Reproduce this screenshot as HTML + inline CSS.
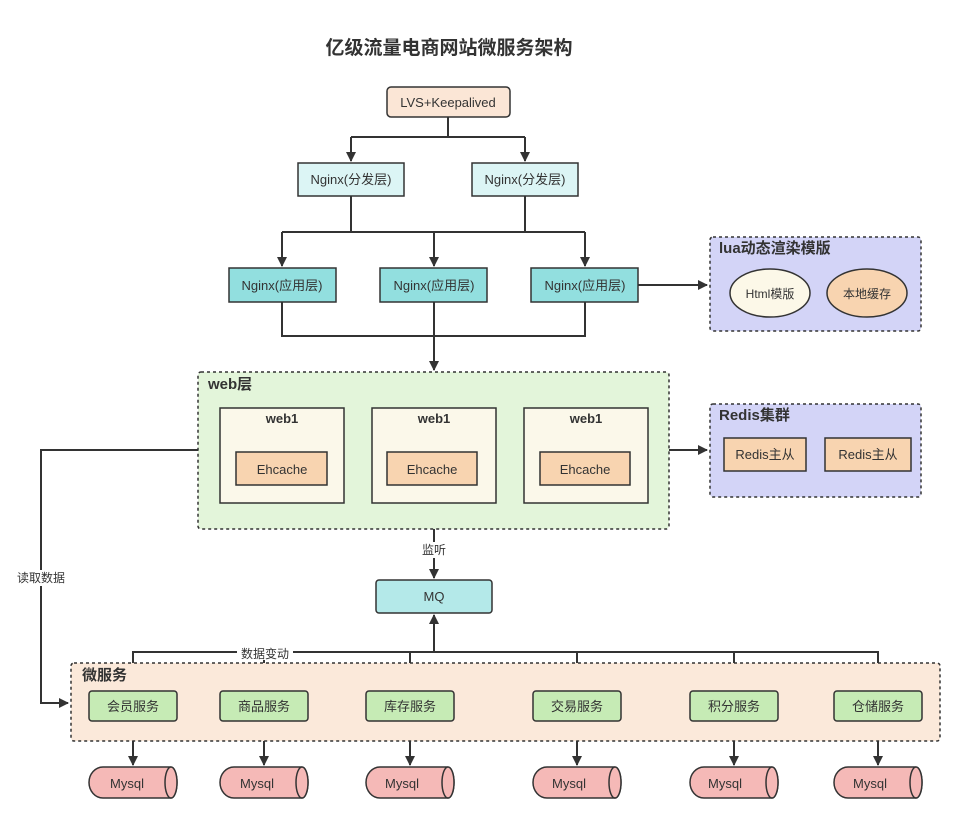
<!DOCTYPE html>
<html><head><meta charset="utf-8"><style>
html,body{margin:0;padding:0;background:#fff;}
svg text{font-family:"Liberation Sans","Noto Sans CJK SC",sans-serif;fill:#333;}
</style></head><body>
<svg width="965" height="822" viewBox="0 0 965 822" xmlns="http://www.w3.org/2000/svg">
<defs>
<marker id="a" markerWidth="10" markerHeight="10" refX="9" refY="5" orient="auto" markerUnits="userSpaceOnUse">
<path d="M0,0 L10,5 L0,10 z" fill="#333"/></marker>
</defs>
<rect width="965" height="822" fill="#fff"/>
<text x="449" y="54" font-size="19" font-weight="bold" text-anchor="middle">亿级流量电商网站微服务架构</text>

<g stroke="#333" stroke-width="2" fill="none">
<!-- LVS to 分发层 -->
<path d="M448,117 V137 M351,137 H525"/>
<path d="M351,137 V161" marker-end="url(#a)"/>
<path d="M525,137 V161" marker-end="url(#a)"/>
<!-- 分发 to 应用 -->
<path d="M351,196 V232 M525,196 V232 M282,232 H585"/>
<path d="M282,232 V266" marker-end="url(#a)"/>
<path d="M434,232 V266" marker-end="url(#a)"/>
<path d="M585,232 V266" marker-end="url(#a)"/>
<!-- 应用 to web -->
<path d="M282,302 V336 H585 V302 M434,302 V336"/>
<path d="M434,336 V370" marker-end="url(#a)"/>
<path d="M638,285 H707" marker-end="url(#a)"/>
<path d="M669,450 H707" marker-end="url(#a)"/>
<!-- read data -->
<path d="M198,450 H41 V703 H68" marker-end="url(#a)"/>
<!-- listen -->
<path d="M434,529 V578" marker-end="url(#a)"/>
<!-- data change -->
<path d="M133,691 V652 H878 V691 M264,652 V691 M410,652 V691 M577,652 V691 M734,652 V691"/>
<path d="M434,652 V615" marker-end="url(#a)"/>
<!-- services to mysql -->
<path d="M133,721 V765" marker-end="url(#a)"/>
<path d="M264,721 V765" marker-end="url(#a)"/>
<path d="M410,721 V765" marker-end="url(#a)"/>
<path d="M577,721 V765" marker-end="url(#a)"/>
<path d="M734,721 V765" marker-end="url(#a)"/>
<path d="M878,721 V765" marker-end="url(#a)"/>
</g>

<!-- label backgrounds -->
<rect x="13" y="570" width="56" height="16" fill="#fff"/>
<text x="41" y="582" font-size="12" text-anchor="middle">读取数据</text>
<rect x="416" y="542" width="36" height="16" fill="#fff"/>
<text x="434" y="554" font-size="12" text-anchor="middle">监听</text>
<rect x="237" y="646" width="56" height="14" fill="#fff"/>
<text x="265" y="658" font-size="12" text-anchor="middle">数据变动</text>

<!-- LVS -->
<rect x="387" y="87" width="123" height="30" rx="4" fill="#fbe6d6" stroke="#333" stroke-width="1.5"/>
<text x="448" y="107" font-size="13" text-anchor="middle">LVS+Keepalived</text>
<!-- 分发层 -->
<rect x="298" y="163" width="106" height="33" fill="#dcf5f5" stroke="#333" stroke-width="1.5"/>
<text x="351" y="184" font-size="13" text-anchor="middle">Nginx(分发层)</text>
<rect x="472" y="163" width="106" height="33" fill="#dcf5f5" stroke="#333" stroke-width="1.5"/>
<text x="525" y="184" font-size="13" text-anchor="middle">Nginx(分发层)</text>
<!-- 应用层 -->
<rect x="229" y="268" width="107" height="34" fill="#92dfdf" stroke="#333" stroke-width="1.5"/>
<text x="282" y="290" font-size="13" text-anchor="middle">Nginx(应用层)</text>
<rect x="380" y="268" width="107" height="34" fill="#92dfdf" stroke="#333" stroke-width="1.5"/>
<text x="434" y="290" font-size="13" text-anchor="middle">Nginx(应用层)</text>
<rect x="531" y="268" width="107" height="34" fill="#92dfdf" stroke="#333" stroke-width="1.5"/>
<text x="585" y="290" font-size="13" text-anchor="middle">Nginx(应用层)</text>

<!-- lua -->
<rect x="710" y="237" width="211" height="94" rx="3" fill="#d3d4f7" stroke="#333" stroke-width="1.5" stroke-dasharray="3,3"/>
<text x="719" y="253" font-size="15" font-weight="bold">lua动态渲染模版</text>
<ellipse cx="770" cy="293" rx="40" ry="24" fill="#fcf8e8" stroke="#333" stroke-width="1.5"/>
<text x="770" y="298" font-size="12" text-anchor="middle">Html模版</text>
<ellipse cx="867" cy="293" rx="40" ry="24" fill="#f8d4b0" stroke="#333" stroke-width="1.5"/>
<text x="867" y="298" font-size="12" text-anchor="middle">本地缓存</text>

<!-- web layer -->
<rect x="198" y="372" width="471" height="157" rx="3" fill="#e3f5da" stroke="#333" stroke-width="1.5" stroke-dasharray="3,3"/>
<text x="208" y="389" font-size="15" font-weight="bold">web层</text>
<g stroke="#333" stroke-width="1.5">
<rect x="220" y="408" width="124" height="95" fill="#fbf8ea"/>
<rect x="372" y="408" width="124" height="95" fill="#fbf8ea"/>
<rect x="524" y="408" width="124" height="95" fill="#fbf8ea"/>
<rect x="236" y="452" width="91" height="33" fill="#f8d4b0"/>
<rect x="387" y="452" width="90" height="33" fill="#f8d4b0"/>
<rect x="540" y="452" width="90" height="33" fill="#f8d4b0"/>
</g>
<text x="282" y="423" font-size="13" font-weight="bold" text-anchor="middle">web1</text>
<text x="434" y="423" font-size="13" font-weight="bold" text-anchor="middle">web1</text>
<text x="586" y="423" font-size="13" font-weight="bold" text-anchor="middle">web1</text>
<text x="282" y="474" font-size="13" text-anchor="middle">Ehcache</text>
<text x="432" y="474" font-size="13" text-anchor="middle">Ehcache</text>
<text x="585" y="474" font-size="13" text-anchor="middle">Ehcache</text>

<!-- Redis -->
<rect x="710" y="404" width="211" height="93" rx="3" fill="#d3d4f7" stroke="#333" stroke-width="1.5" stroke-dasharray="3,3"/>
<text x="719" y="420" font-size="15" font-weight="bold">Redis集群</text>
<rect x="724" y="438" width="82" height="33" fill="#f8d4b0" stroke="#333" stroke-width="1.5"/>
<text x="765" y="459" font-size="13" text-anchor="middle">Redis主从</text>
<rect x="825" y="438" width="86" height="33" fill="#f8d4b0" stroke="#333" stroke-width="1.5"/>
<text x="868" y="459" font-size="13" text-anchor="middle">Redis主从</text>

<!-- MQ -->
<rect x="376" y="580" width="116" height="33" rx="3" fill="#b4e9e9" stroke="#333" stroke-width="1.5"/>
<text x="434" y="601" font-size="13" text-anchor="middle">MQ</text>

<!-- microservices -->
<rect x="71" y="663" width="869" height="78" rx="3" fill="#fbe9da" stroke="#333" stroke-width="1.5" stroke-dasharray="3,3"/>
<text x="82" y="680" font-size="15" font-weight="bold">微服务</text>
<g stroke="#333" stroke-width="1.5" fill="#c6ebb5">
<rect x="89" y="691" width="88" height="30" rx="3"/>
<rect x="220" y="691" width="88" height="30" rx="3"/>
<rect x="366" y="691" width="88" height="30" rx="3"/>
<rect x="533" y="691" width="88" height="30" rx="3"/>
<rect x="690" y="691" width="88" height="30" rx="3"/>
<rect x="834" y="691" width="88" height="30" rx="3"/>
</g>
<g font-size="13" text-anchor="middle">
<text x="133" y="711">会员服务</text>
<text x="264" y="711">商品服务</text>
<text x="410" y="711">库存服务</text>
<text x="577" y="711">交易服务</text>
<text x="734" y="711">积分服务</text>
<text x="878" y="711">仓储服务</text>
</g>

<!-- Mysql cylinders -->
<g stroke="#333" stroke-width="1.5" fill="#f5b9b7">
<path d="M103,767 H171 A6,15.5 0 0 1 171,798 H103 A14,15.5 0 0 1 103,767 z"/><ellipse cx="171" cy="782.5" rx="6" ry="15.5"/>
<path d="M234,767 H302 A6,15.5 0 0 1 302,798 H234 A14,15.5 0 0 1 234,767 z"/><ellipse cx="302" cy="782.5" rx="6" ry="15.5"/>
<path d="M380,767 H448 A6,15.5 0 0 1 448,798 H380 A14,15.5 0 0 1 380,767 z"/><ellipse cx="448" cy="782.5" rx="6" ry="15.5"/>
<path d="M547,767 H615 A6,15.5 0 0 1 615,798 H547 A14,15.5 0 0 1 547,767 z"/><ellipse cx="615" cy="782.5" rx="6" ry="15.5"/>
<path d="M704,767 H772 A6,15.5 0 0 1 772,798 H704 A14,15.5 0 0 1 704,767 z"/><ellipse cx="772" cy="782.5" rx="6" ry="15.5"/>
<path d="M848,767 H916 A6,15.5 0 0 1 916,798 H848 A14,15.5 0 0 1 848,767 z"/><ellipse cx="916" cy="782.5" rx="6" ry="15.5"/>
</g>
<g font-size="13" text-anchor="middle">
<text x="127" y="788">Mysql</text>
<text x="257" y="788">Mysql</text>
<text x="402" y="788">Mysql</text>
<text x="569" y="788">Mysql</text>
<text x="725" y="788">Mysql</text>
<text x="870" y="788">Mysql</text>
</g>
</svg>
</body></html>
